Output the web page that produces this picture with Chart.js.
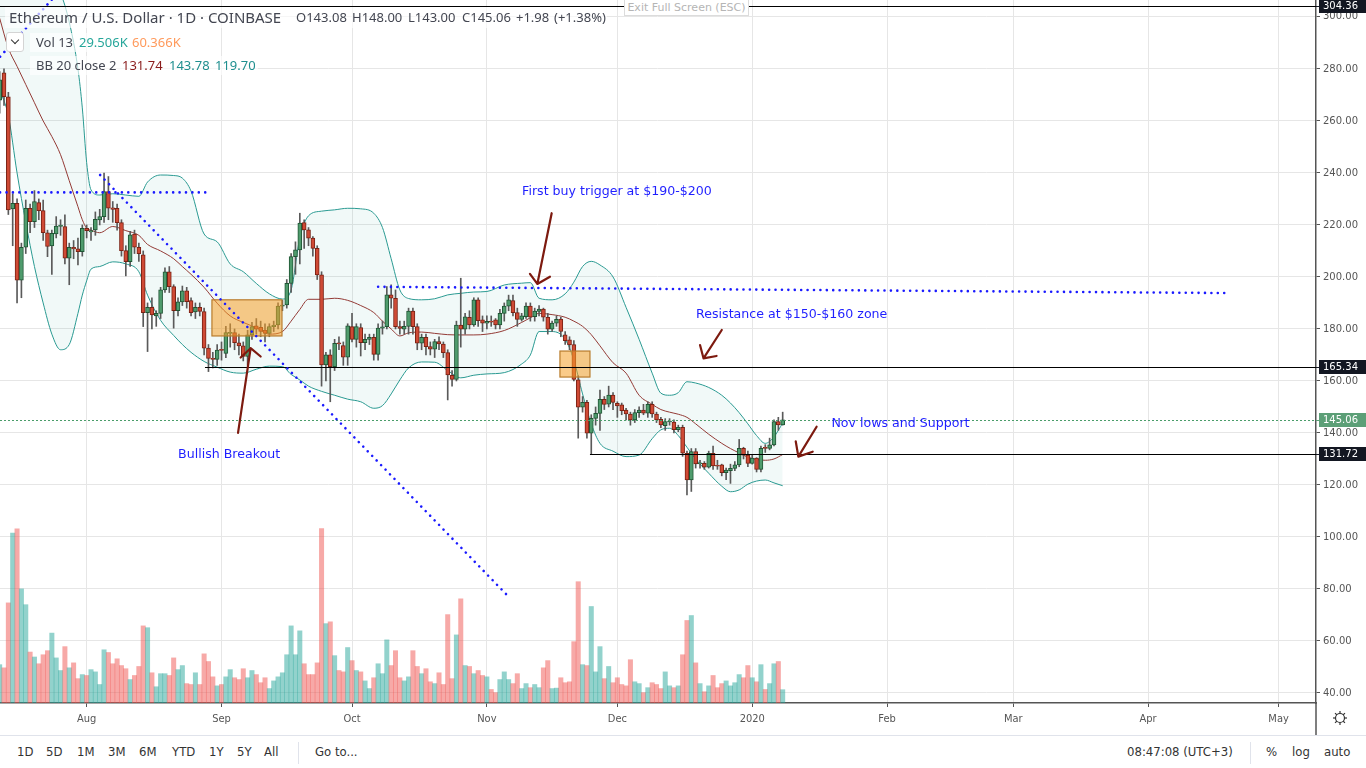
<!DOCTYPE html>
<html><head><meta charset="utf-8">
<script src="https://cdn.jsdelivr.net/npm/chart.js@4.4.1/dist/chart.umd.min.js"></script>
<style>
html,body{margin:0;padding:0;background:#fff;width:1366px;height:768px;overflow:hidden;}
#wrap{position:relative;width:1366px;height:768px;}
#c{position:absolute;left:0;top:0;}
.t{position:absolute;white-space:nowrap;line-height:1;transform:translateY(-50%);}
.h1{font:15px "Noto Sans",sans-serif;color:#434651;}
.h2{font:13px "Noto Sans",sans-serif;color:#434651;}
.bgl{position:absolute;background:rgba(255,255,255,0.65);}
.tb{font:13px "DejaVu Sans Condensed","Liberation Sans Narrow","Liberation Sans",sans-serif;color:#333;}
#exit{position:absolute;left:624px;top:-1px;width:123px;height:15px;border:1px solid #dcdcdc;background:#fff;color:#b5b5b5;font:11px "DejaVu Sans",sans-serif;text-align:center;line-height:15px;}
#toolbar{position:absolute;left:0;top:735px;width:1366px;height:33px;border-top:1px solid #e0e3eb;background:#fff;}
.sep{position:absolute;top:6px;width:1px;height:22px;background:#e0e3eb;}
#dd{position:absolute;left:6px;top:32px;width:16px;height:18px;border:1px solid #d4d4d4;border-radius:3px;background:#fff;}
#dd i{position:absolute;left:5px;top:4px;width:5px;height:5px;border-right:1.5px solid #333;border-bottom:1.5px solid #333;transform:rotate(45deg);}
</style></head><body>
<div id="wrap">
<canvas id="c" width="1366" height="735"></canvas>

<div class="bgl" style="left:5px;top:7px;width:602px;height:21px"></div>
<div class="bgl" style="left:30px;top:33px;width:152px;height:19px"></div>
<div class="bgl" style="left:30px;top:56px;width:228px;height:19px"></div>
<span class="t h1" style="left:9px;top:17px">Ethereum / U.S. Dollar · 1D · COINBASE</span>
<span class="t h2" style="left:296px;top:17px">O143.08</span>
<span class="t h2" style="left:352px;top:17px">H148.00</span>
<span class="t h2" style="left:408px;top:17px">L143.00</span>
<span class="t h2" style="left:462px;top:17px">C145.06</span>
<span class="t h2" style="left:516px;top:17px">+1.98</span>
<span class="t h2" style="left:554px;top:17px">(+1.38%)</span>
<div id="dd"><i></i></div>
<span class="t h2" style="left:36px;top:42px">Vol 13</span>
<span class="t h2" style="left:79px;top:42px;color:#26a69a">29.506K</span>
<span class="t h2" style="left:132px;top:42px;color:#ff9a5c">60.366K</span>
<span class="t h2" style="left:36px;top:65px">BB 20 close 2</span>
<span class="t h2" style="left:122px;top:65px;color:#8a1c1c">131.74</span>
<span class="t h2" style="left:169px;top:65px;color:#1f8f8f">143.78</span>
<span class="t h2" style="left:215px;top:65px;color:#1f8f8f">119.70</span>
<div id="exit">Exit Full Screen (ESC)</div>

<div id="toolbar">
<span class="t tb" style="left:17px;top:15px">1D</span>
<span class="t tb" style="left:46px;top:15px">5D</span>
<span class="t tb" style="left:77px;top:15px">1M</span>
<span class="t tb" style="left:108px;top:15px">3M</span>
<span class="t tb" style="left:139px;top:15px">6M</span>
<span class="t tb" style="left:172px;top:15px">YTD</span>
<span class="t tb" style="left:209px;top:15px">1Y</span>
<span class="t tb" style="left:237px;top:15px">5Y</span>
<span class="t tb" style="left:264px;top:15px">All</span>
<div class="sep" style="left:298px"></div>
<span class="t tb" style="left:315px;top:15px">Go to...</span>
<span class="t tb" style="left:1127px;top:15px">08:47:08 (UTC+3)</span>
<div class="sep" style="left:1250px"></div>
<span class="t tb" style="left:1266px;top:15px">%</span>
<span class="t tb" style="left:1292px;top:15px">log</span>
<span class="t tb" style="left:1324px;top:15px">auto</span>
</div>
</div>
<script>
// ---- data (index 0 = 2019-07-12, one entry per daily candle) ----
const opens = [268,278.5,269.3,226.2,228.3,198.8,211.4,226.4,221.3,228.6,
225.5,217,211.9,216.5,219.4,219.4,207.2,211.4,210.8,209.7,
218.7,217.3,218.1,221.9,223.2,232.8,226.6,226.4,220.9,210.1,
205.9,216.5,211.4,208.5,186.3,188.3,185,186,195,202,
196.3,187,190.4,194.7,190.9,186.5,188.3,186.7,172.6,168.7,
168.3,172.2,170.6,178.3,178.6,174.7,173.5,169.4,177.7,181.2,
180.6,179.6,178.3,180.9,181.5,188.8,189.2,197.5,207.8,210.4,
220.9,218.1,214.9,211,200.8,166.2,170,165.5,174.7,173.6,
169.1,180.9,176,180.5,174.7,176,176.8,170.2,180.3,180.9,
193.1,191.8,180.9,179.9,181,186.9,180.9,174.5,176.8,173.2,
172.2,175.1,174.2,170.9,162.2,160.6,181.5,179.9,184.5,181.5,
191.2,183.5,182.2,182.9,183.5,181.5,186,188.8,190.9,186.3,
183.7,184.7,188.8,184.7,186.7,187.6,184.5,179.9,182.2,183.8,
177.7,175.8,174,160.4,149.9,151.8,139.9,145.6,147.5,152.9,
151.1,154.6,151.4,150.8,148.8,147.3,145,147.8,148.8,147.6,
151,147.3,145.2,142.8,144.2,144.2,141.3,142.2,132.2,121.9,
132.8,128.1,128.3,126.8,132.2,127.5,127.7,124.7,125.5,126.4,
127.7,134.1,131.5,128.3,130.3,126,134.4,134.1,135.4,144.4,
143.08];
const highs = [279,280,271,232,230,213,229.6,228,233.2,230,
229.6,218,218,223.2,222,223.9,213,214,214.9,220,
220,219,225,226,239.9,238.6,229,228,222,212,
217.5,218,213,210,190,192,187,196,203.5,204,
197,192,196.5,196,192,190,190,188,174,171,
174,175,181,182,180,178,175,179.5,182.5,184,
183,182,182,183,190,191,199,209,213.5,224.5,
222,219,215.5,212,202,171,172,176,177,175,
182,186,182,182,178,178,178,182,183,196.3,
197,195,183,183,188,188,182,178,178,175,
176,177,175,172,164,183,199.5,186,187,192,
192,185,185,185,184,187.5,190,193,193,188,
186,190,190,188,189,188,186,183,185,184.5,
179,177,175.5,162,154,152.5,147,150,156.5,154,
158,155.5,152,151.5,149.5,148,149,150,151,152,
152,148,146,145.5,145.5,145,143,143,133,134,
134,129.5,129,133,135,129.5,128,126.5,128,129,
137.5,134.5,133,131.5,130.5,135,135.5,138,145,146,
148];
const lows = [263,266,224,212,190,192,209,217,219,222,
214,207.8,201,215,216,205,197,207,204.6,208,
215,214,216,220,221,222,221,218,208,200.4,
204,209,206,180.9,171.3,180,181,184,194,194,
180.3,185,189,188,185,184,185,170,163.6,165,
166,168,169,173,172,170,167.7,166,176,178,
177,175,177,179,180,187,188,194,201,205,
211,212,208,199,158,160,152,164,172,166,
166,175,173,169.6,172,174,168,168,178,180,
188,180,178,178,178,178,172,172,170,170,
169,172,169,152.7,158,160,173,178,180,181,
181,179,180,181,180,180,183,187,185,181,
183,184,183,183,185,183,178,179,181,177,
174,172,160,138,148,138,131.7,143,141,149,
150,149,146,147,145,143,144,146,147,146,
146,144,142,141,143,140,140.5,131,116.2,117.5,
126.5,126.5,126,126.5,126,126,123.5,122,120.6,125.5,
127,130,127,128,125,125,132.5,133.5,135,141,
143];
const closes = [275.8,269.3,225.8,228.3,198.8,211.4,226.4,221.3,229,225.5,
217,211.7,216.8,219.6,219.9,207.2,211.4,210.8,209.7,218.7,
217.8,217.8,222.2,223.2,232.8,226.4,226,220.9,210.1,205.9,
216.2,211.4,208.9,186.3,188.3,185.4,186,195,202,196.3,
187,190.4,194.7,190.5,186.3,188.3,186.7,172.6,168.7,168.3,
171.9,171.7,178.6,178.6,174.7,173.5,169.4,177.7,180.9,179.9,
179,178.3,180.9,181.5,188.8,189.2,197.5,207.8,210.4,220.7,
218.1,214.9,211,200.8,166.2,170,165.5,174.5,174.2,169.1,
181.2,176,180.9,174.7,176,176.8,170.2,180.3,180.8,193.1,
191.8,180.9,180.2,181,186.9,180.9,174.5,176.8,173.2,172.2,
175.1,174.2,170.9,162.3,160.6,181.5,179.9,184.7,181.5,191.2,
183.2,182.2,182.9,182.6,181.5,186,188.8,191.2,186.3,183.7,
185,188.8,184.5,186.9,187.6,184.5,179.9,182.3,183.7,179,
175.5,173.9,160.6,149.9,151.8,139.9,145.6,147.5,152.9,151,
154.6,151.7,150.4,148.6,147.3,145,147.8,148.8,147.6,151,
147.3,145,143.1,144.4,144.4,141.3,142.2,132.2,121.9,132.8,
128.1,128.4,126.8,132.2,127.3,127.2,124.7,125.7,126.4,127.7,
134.1,131.5,128.3,130.3,126,134.1,134.1,135.4,144.4,143.08,
145.06];
const volumes = [85,78,222,377,386,253,218,113,102,87,
107,116,155,100,72,125,78,89,54,63,
61,74,69,41,118,112,87,98,83,76,
52,61,81,171,167,67,36,65,65,61,
100,74,83,43,41,67,41,109,92,58,
38,41,58,74,56,52,76,56,72,63,
45,56,32,49,58,67,107,171,107,160,
87,63,63,89,387,176,180,105,72,69,
123,94,72,69,49,32,56,87,65,140,
83,116,56,49,58,116,81,65,76,47,
43,67,41,196,54,151,231,83,81,65,
72,61,58,30,23,52,69,52,43,65,
32,43,34,41,34,78,94,32,33,56,
45,47,136,269,85,83,214,69,125,54,
81,45,56,41,38,96,47,43,23,34,
45,41,32,69,38,34,38,107,183,194,
89,43,25,38,61,34,43,49,38,45,
63,56,83,56,47,85,30,43,87,92,
29.5];
// Bollinger band readings (day index, upper, basis, lower)
const bbDays  = [0,2,4,6,8,10,12,14,16,18,19,20,21,23,26,29,32,34,37,40,42,44,47,50,53,56,59,62,65,67,69,71,74,77,80,83,86,88,90,92,94,97,100,103,106,109,112,116,120,122,124,127,130,132,134,136,138,141,144,147,150,152,154,156,158,160,163,166,168,170,172,174,176,178,180];
const bbUpper = [330,328,326,324,320,316,313,309,298,280,265,244,233.5,231.5,232,231.5,231,236.5,239.2,239,238,233,216.5,213.5,205,202,197.5,193.5,191.5,195,215,223.5,225.3,225.8,226.4,226.2,224.5,219,207,195,191.7,191.2,191.6,193.1,193.7,194.2,194.4,196.9,197.6,197.8,191.8,191.2,193.5,198,204,206,204.6,200,188.3,176,163,155.3,154.5,155.5,159.7,159.2,157.5,154.5,151.5,147.8,143.5,139,136,138.5,143.8];
const bbMid   = [299.5,288,281,274,267,260,254,247,237,227,222,218.7,218,217,219.4,217.8,216,212.5,210,207,204,201,196,189.9,185,182.5,180.5,178,179,183,187.5,191.4,191.4,191.8,191,189,186.3,183,180,177.3,178.5,178.8,178.3,177.8,177.7,177.7,178,179.4,182.5,184.3,186,185.5,184.5,183,181,177.8,173.5,167,163,154.5,151,149,148,147.2,146,143.5,139.5,136,134,132.3,130.7,129.8,129.5,130,131.7];
const bbLower = [272,262,240,221,204,190,178,172,174,186,193,198.5,203,204,205.8,205,202,193,183.3,177.5,174,171,167.5,165.3,163.4,163,164.5,165.7,165.5,162.5,160.4,158,156,154.5,153,152,149.5,150.5,155,160.4,165,167.3,167.2,164,161.2,162.2,162.7,163.2,166.5,170,179,179,176,168,155,143.5,136,133,130.9,131.5,137.8,141.2,141.8,139,134.5,130,124.5,119.5,117.4,118.1,120.3,121.5,121.9,120.8,119.7];
// axes
const priceTicks = [40,60,80,100,120,140,160,180,200,220,240,260,280,300];
const monthTicks = [20,51,81,112,142,173,204,233,264,294];
const monthLabels = ['Aug','Sep','Oct','Nov','Dec','2020','Feb','Mar','Apr','May'];
// drawings (day index, price)
const levelLines = [{price:304.36, from:0}, {price:165.34, from:47.2}, {price:131.72, from:135.7}];
const lastPrice = 145.06;
const trendLines = [[0.1,232.5,47.6,232.5],[87,196.2,281.9,193.8],[23.1,239.2,117.3,76.5],[0.1,284.7,13,308.5]];
const zoneBoxes = [{x0:48.8,x1:64.9,top:191.2,bottom:177.3},{x0:128.8,x1:135.7,top:171.5,bottom:161.5}];
const arrows = [
 {from:[126.9,224.5], to:[123.6,197.3], arms:[[121.9,201.2],[126.5,200.1]]},
 {from:[166,179.6], to:[161.8,168.7], arms:[[161,173.8],[164.8,169.6]]},
 {from:[187.8,142.4], to:[183.6,130.9], arms:[[183.0,136.8],[186.9,132.8]]},
 {from:[54.8,140], to:[57.7,172.6], arms:[[55.4,169],[60,169.4]]}
];
const notes = [
 {text:'First buy trigger at $190-$200', x:120.1, y:232.6},
 {text:'Resistance at $150-$160 zone', x:160.1, y:185.6},
 {text:'Nov lows and Support', x:191.2, y:143.5},
 {text:'Bullish Breakout', x:41, y:131.7}
];
const badges = [{price:304.36,bg:'#131722'},{price:165.34,bg:'#131722'},{price:145.06,bg:'#5c9f77'},{price:131.72,bg:'#131722'}];

const idx = closes.map((_, i) => i);
const isUp = i => closes[i] >= opens[i];

const overlay = {
  id: 'overlay',
  afterDatasetsDraw(chart) {
    const {ctx, chartArea: a, scales: {x, y}} = chart;
    const px = v => x.getPixelForValue(v), py = v => y.getPixelForValue(v);
    ctx.save();
    ctx.beginPath(); ctx.rect(a.left, a.top, a.right - a.left, a.bottom - a.top); ctx.clip();
    zoneBoxes.forEach(b => {
      const x0 = px(b.x0), x1 = px(b.x1), y0 = py(b.top), y1 = py(b.bottom);
      ctx.fillStyle = 'rgba(245,160,40,0.55)'; ctx.fillRect(x0, y0, x1 - x0, y1 - y0);
      ctx.strokeStyle = '#b97c2c'; ctx.lineWidth = 1.2; ctx.strokeRect(x0, y0, x1 - x0, y1 - y0);
    });
    ctx.setLineDash([2, 2]); ctx.strokeStyle = '#4a9d6a'; ctx.lineWidth = 1;
    let yp = Math.round(py(lastPrice)) + 0.5;
    ctx.beginPath(); ctx.moveTo(a.left, yp); ctx.lineTo(a.right, yp); ctx.stroke();
    ctx.setLineDash([]);
    levelLines.forEach(l => {
      const yy = Math.round(py(l.price)) + 0.5;
      ctx.strokeStyle = '#000'; ctx.lineWidth = 1.2;
      ctx.beginPath(); ctx.moveTo(px(l.from), yy); ctx.lineTo(a.right, yy); ctx.stroke();
    });
    ctx.strokeStyle = '#1a1aff'; ctx.lineWidth = 2.6; ctx.lineCap = 'round'; ctx.setLineDash([0.01, 6.4]);
    trendLines.forEach(t => { ctx.beginPath(); ctx.moveTo(px(t[0]), py(t[1])); ctx.lineTo(px(t[2]), py(t[3])); ctx.stroke(); });
    ctx.setLineDash([]);
    ctx.strokeStyle = '#7d1a0f'; ctx.lineWidth = 2.2;
    arrows.forEach(r => {
      const tx = px(r.to[0]), ty = py(r.to[1]);
      ctx.beginPath(); ctx.moveTo(px(r.from[0]), py(r.from[1])); ctx.lineTo(tx, ty);
      r.arms.forEach(m => { ctx.moveTo(px(m[0]), py(m[1])); ctx.lineTo(tx, ty); });
      ctx.stroke();
    });
    ctx.fillStyle = '#1f1fff'; ctx.font = '12.6px "DejaVu Sans"'; ctx.textBaseline = 'middle'; ctx.textAlign = 'left';
    notes.forEach(n => ctx.fillText(n.text, px(n.x), py(n.y)));
    ctx.restore();
  },
  afterDraw(chart) {
    const {ctx, chartArea: a, scales: {y}} = chart;
    ctx.save();
    ctx.strokeStyle = '#555'; ctx.lineWidth = 1.5;
    ctx.beginPath(); ctx.moveTo(a.right, a.bottom); ctx.lineTo(a.right, 735); ctx.stroke();
    badges.forEach(b => {
      const yy = Math.round(y.getPixelForValue(b.price));
      ctx.fillStyle = b.bg; ctx.fillRect(a.right + 3, yy - 7, 1366 - a.right - 3, 14);
      ctx.fillRect(a.right, yy, 4, 1);
      ctx.fillStyle = '#fff'; ctx.font = '10px "DejaVu Sans"'; ctx.textBaseline = 'middle'; ctx.textAlign = 'left';
      ctx.fillText(b.price.toFixed(2), a.right + 7, yy + 0.5);
    });
    const cx = 1340, cy = 718;
    ctx.strokeStyle = '#333'; ctx.lineWidth = 1.2;
    ctx.beginPath(); ctx.arc(cx, cy, 4.5, 0, Math.PI * 2); ctx.stroke();
    for (let k = 0; k < 8; k++) {
      const ang = k * Math.PI / 4;
      ctx.beginPath(); ctx.moveTo(cx + Math.cos(ang) * 4.5, cy + Math.sin(ang) * 4.5);
      ctx.lineTo(cx + Math.cos(ang) * 7, cy + Math.sin(ang) * 7); ctx.stroke();
    }
    ctx.restore();
  }
};

const axisFont = {family: '"DejaVu Sans Condensed","Liberation Sans Narrow","Liberation Sans",sans-serif', size: 11};
new Chart(document.getElementById('c'), {
  data: {
    datasets: [
      {type: 'bar', data: volumes.map((v, i) => ({x: i, y: v})), yAxisID: 'yv',
       backgroundColor: idx.map(i => isUp(i) ? 'rgba(38,166,154,0.5)' : 'rgba(239,83,80,0.5)'),
       barPercentage: 1, categoryPercentage: 1, grouped: false, order: 10},
      {type: 'line', data: bbDays.map((d, k) => ({x: d, y: bbUpper[k]})), yAxisID: 'y', borderColor: '#2a9a92', borderWidth: 1,
       pointRadius: 0, fill: '+2', backgroundColor: 'rgba(0,150,136,0.055)', cubicInterpolationMode: 'monotone', order: 6},
      {type: 'line', data: bbDays.map((d, k) => ({x: d, y: bbMid[k]})), yAxisID: 'y', borderColor: '#933a35', borderWidth: 1,
       pointRadius: 0, fill: false, cubicInterpolationMode: 'monotone', order: 5},
      {type: 'line', data: bbDays.map((d, k) => ({x: d, y: bbLower[k]})), yAxisID: 'y', borderColor: '#2a9a92', borderWidth: 1,
       pointRadius: 0, fill: false, cubicInterpolationMode: 'monotone', order: 6},
      {type: 'bar', data: idx.map(i => ({x: i, y: [lows[i], highs[i]]})), yAxisID: 'y', backgroundColor: '#5a5a5a',
       barThickness: 1, grouped: false, order: 2},
      {type: 'bar', data: idx.map(i => ({x: i, y: [opens[i], closes[i]]})), yAxisID: 'y',
       backgroundColor: idx.map(i => isUp(i) ? '#4f9c6d' : '#cf4a35'),
       borderColor: idx.map(i => isUp(i) ? '#1f5534' : '#7a2214'),
       borderWidth: 1, borderSkipped: false, barThickness: 4, minBarLength: 1, grouped: false, order: 1}
    ]
  },
  options: {
    responsive: false, animation: false, devicePixelRatio: 1,
    layout: {padding: 0, autoPadding: false},
    plugins: {legend: {display: false}, tooltip: {enabled: false}},
    scales: {
      x: {type: 'linear', min: 0.08, max: 302.6, offset: false, position: 'bottom',
          grid: {color: '#e6e6e6', offset: false, tickColor: '#555', tickLength: 4},
          border: {color: '#555', width: 1.5},
          afterBuildTicks: s => { s.ticks = monthTicks.map(v => ({value: v})); },
          afterFit: s => { s.height = 32; s.paddingLeft = 0; s.paddingRight = 0; s.paddingTop = 0; s.paddingBottom = 0; },
          ticks: {autoSkip: false, maxRotation: 0, padding: 6, color: '#555', font: axisFont,
                  callback: (v, i) => monthLabels[i]}},
      y: {type: 'linear', position: 'right', min: 36.15, max: 306.5,
          grid: {color: '#e6e6e6', tickColor: '#555', tickLength: 4},
          border: {color: '#555', width: 1.5},
          afterBuildTicks: s => { s.ticks = priceTicks.map(v => ({value: v})); },
          afterFit: s => { s.width = 50; s.paddingTop = 0; s.paddingBottom = 0; s.paddingLeft = 0; s.paddingRight = 0; },
          ticks: {padding: 3, color: '#555', font: {family: '"DejaVu Sans",sans-serif', size: 10},
                  callback: v => Number(v).toFixed(2)}},
      yv: {type: 'linear', display: false, min: 0, max: 1559}
    }
  },
  plugins: [overlay]
});
</script>
</body></html>
